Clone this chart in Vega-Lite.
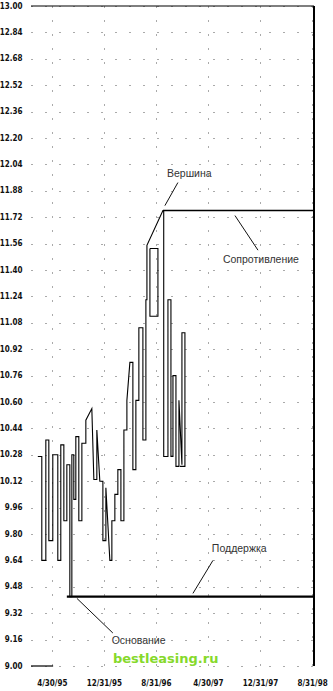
{
  "$schema": "https://vega.github.io/schema/vega-lite/v6.json",
  "width": 283,
  "height": 660,
  "autosize": "none",
  "padding": {"left": 31, "top": 6, "right": 19, "bottom": 25},
  "background": "white",
  "config": {
    "view": {"stroke": null},
    "axis": {
      "labelFont": "DejaVu Sans Condensed",
      "labelFontWeight": "bold",
      "labelFontSize": 8,
      "labelColor": "#111",
      "domain": false,
      "ticks": false,
      "grid": true,
      "gridColor": "#555",
      "gridDash": [1, 13],
      "gridWidth": 1,
      "title": null
    }
  },
  "datasets": {
    "path": [
      {"s": 1, "i": 1, "t": 1.85, "p": 10.27},
      {"s": 1, "i": 2, "t": 2.46, "p": 10.27},
      {"s": 1, "i": 3, "t": 2.46, "p": 9.64},
      {"s": 1, "i": 4, "t": 3.08, "p": 9.64},
      {"s": 1, "i": 5, "t": 3.08, "p": 10.37},
      {"s": 1, "i": 6, "t": 3.54, "p": 10.37},
      {"s": 1, "i": 7, "t": 3.54, "p": 9.76},
      {"s": 1, "i": 8, "t": 4.15, "p": 9.76},
      {"s": 1, "i": 9, "t": 4.15, "p": 10.28},
      {"s": 1, "i": 10, "t": 4.92, "p": 10.28},
      {"s": 1, "i": 11, "t": 4.92, "p": 9.64},
      {"s": 1, "i": 12, "t": 5.38, "p": 9.64},
      {"s": 1, "i": 13, "t": 5.38, "p": 10.34},
      {"s": 1, "i": 14, "t": 5.85, "p": 10.34},
      {"s": 1, "i": 15, "t": 5.85, "p": 9.88},
      {"s": 1, "i": 16, "t": 6.31, "p": 9.88},
      {"s": 1, "i": 17, "t": 6.31, "p": 10.22},
      {"s": 1, "i": 18, "t": 6.77, "p": 10.22},
      {"s": 1, "i": 19, "t": 6.77, "p": 9.42},
      {"s": 1, "i": 20, "t": 7.08, "p": 9.42},
      {"s": 1, "i": 21, "t": 7.08, "p": 10.28},
      {"s": 1, "i": 22, "t": 7.38, "p": 10.28},
      {"s": 1, "i": 23, "t": 7.38, "p": 10.01},
      {"s": 1, "i": 24, "t": 7.69, "p": 10.01},
      {"s": 1, "i": 25, "t": 7.69, "p": 10.39},
      {"s": 1, "i": 26, "t": 8.15, "p": 10.39},
      {"s": 1, "i": 27, "t": 8.15, "p": 9.88},
      {"s": 1, "i": 28, "t": 8.62, "p": 9.88},
      {"s": 1, "i": 29, "t": 8.62, "p": 10.35},
      {"s": 1, "i": 30, "t": 9.23, "p": 10.35},
      {"s": 1, "i": 31, "t": 9.23, "p": 10.49},
      {"s": 1, "i": 32, "t": 10.15, "p": 10.56},
      {"s": 1, "i": 33, "t": 10.46, "p": 10.13},
      {"s": 1, "i": 34, "t": 10.92, "p": 10.13},
      {"s": 1, "i": 35, "t": 10.92, "p": 10.43},
      {"s": 1, "i": 36, "t": 11.38, "p": 10.12},
      {"s": 1, "i": 37, "t": 11.85, "p": 10.12},
      {"s": 1, "i": 38, "t": 11.85, "p": 9.76},
      {"s": 1, "i": 39, "t": 12.31, "p": 9.76},
      {"s": 1, "i": 40, "t": 12.31, "p": 10.08},
      {"s": 1, "i": 41, "t": 12.92, "p": 9.64},
      {"s": 1, "i": 42, "t": 13.23, "p": 9.64},
      {"s": 1, "i": 43, "t": 13.23, "p": 9.88},
      {"s": 1, "i": 44, "t": 13.69, "p": 9.88},
      {"s": 1, "i": 45, "t": 13.69, "p": 10.04},
      {"s": 1, "i": 46, "t": 14.15, "p": 10.04},
      {"s": 1, "i": 47, "t": 14.15, "p": 10.19},
      {"s": 1, "i": 48, "t": 14.62, "p": 10.19},
      {"s": 1, "i": 49, "t": 14.62, "p": 9.88},
      {"s": 1, "i": 50, "t": 15.08, "p": 9.88},
      {"s": 1, "i": 51, "t": 15.08, "p": 10.43},
      {"s": 1, "i": 52, "t": 15.54, "p": 10.43},
      {"s": 1, "i": 53, "t": 15.54, "p": 10.61},
      {"s": 1, "i": 54, "t": 16.0, "p": 10.84},
      {"s": 1, "i": 55, "t": 16.46, "p": 10.84},
      {"s": 1, "i": 56, "t": 16.46, "p": 10.19},
      {"s": 1, "i": 57, "t": 16.92, "p": 10.19},
      {"s": 1, "i": 58, "t": 16.92, "p": 10.61},
      {"s": 1, "i": 59, "t": 17.38, "p": 10.61},
      {"s": 1, "i": 60, "t": 17.38, "p": 11.05},
      {"s": 1, "i": 61, "t": 18.0, "p": 11.05},
      {"s": 1, "i": 62, "t": 18.0, "p": 10.37},
      {"s": 1, "i": 63, "t": 18.46, "p": 10.37},
      {"s": 1, "i": 64, "t": 18.46, "p": 11.22},
      {"s": 1, "i": 65, "t": 18.62, "p": 11.22},
      {"s": 1, "i": 66, "t": 18.62, "p": 11.55},
      {"s": 1, "i": 67, "t": 21.08, "p": 11.76},
      {"s": 1, "i": 68, "t": 21.2, "p": 11.76},
      {"s": 1, "i": 69, "t": 21.2, "p": 10.27},
      {"s": 1, "i": 70, "t": 21.85, "p": 10.27},
      {"s": 1, "i": 71, "t": 21.85, "p": 11.22},
      {"s": 1, "i": 72, "t": 22.31, "p": 11.22},
      {"s": 1, "i": 73, "t": 22.31, "p": 10.27},
      {"s": 1, "i": 74, "t": 22.62, "p": 10.27},
      {"s": 1, "i": 75, "t": 22.62, "p": 10.76},
      {"s": 1, "i": 76, "t": 23.08, "p": 10.76},
      {"s": 1, "i": 77, "t": 23.08, "p": 10.21},
      {"s": 1, "i": 78, "t": 23.54, "p": 10.21},
      {"s": 1, "i": 79, "t": 23.54, "p": 10.61},
      {"s": 1, "i": 80, "t": 24.0, "p": 10.22},
      {"s": 1, "i": 81, "t": 24.0, "p": 11.02},
      {"s": 1, "i": 82, "t": 24.46, "p": 11.02},
      {"s": 1, "i": 83, "t": 24.46, "p": 10.21},
      {"s": 1, "i": 84, "t": 23.7, "p": 10.21},
      {"s": 2, "i": 1, "t": 19.08, "p": 11.53},
      {"s": 2, "i": 2, "t": 20.31, "p": 11.53},
      {"s": 2, "i": 3, "t": 20.31, "p": 11.12},
      {"s": 2, "i": 4, "t": 19.08, "p": 11.12},
      {"s": 2, "i": 5, "t": 19.08, "p": 11.53}
    ],
    "leaders": [
      {"t1": 21.38, "p1": 11.79, "t2": 23.38, "p2": 11.93},
      {"t1": 32.15, "p1": 11.73, "t2": 35.69, "p2": 11.52},
      {"t1": 25.69, "p1": 9.44, "t2": 28.77, "p2": 9.64},
      {"t1": 7.85, "p1": 9.41, "t2": 13.38, "p2": 9.2}
    ],
    "levels": [
      {"name": "Сопротивление", "t1": 21.08, "t2": 44.3, "p": 11.76, "w": 1.5},
      {"name": "Поддержка", "t1": 6.31, "t2": 44.3, "p": 9.42, "w": 2.2}
    ],
    "labels": [
      {"t": 21.7, "p": 11.98, "text": "Вершина"},
      {"t": 30.3, "p": 11.46, "text": "Сопротивление"},
      {"t": 28.6, "p": 9.71, "text": "Поддержка"},
      {"t": 13.2, "p": 9.15, "text": "Основание"}
    ],
    "frame": [
      {"t1": 0.8, "t2": 44.3, "p1": 13, "p2": 13, "w": 1.2},
      {"t1": 44.3, "t2": 44.3, "p1": 9, "p2": 13, "w": 2},
      {"t1": 0.8, "t2": 4.2, "p1": 9, "p2": 9, "w": 1.2}
    ],
    "mark": [
      {"t": 21.5, "p": 9.04, "text": "bestleasing.ru"}
    ]
  },
  "encoding": {
    "x": {
      "field": "t", "type": "quantitative",
      "scale": {"domain": [0.8, 44.3], "nice": false, "zero": false},
      "axis": {
        "values": [4, 12, 20, 28, 36, 44],
        "labelPadding": 13,
        "labelExpr": "datum.value == 4 ? '4/30/95' : datum.value == 12 ? '12/31/95' : datum.value == 20 ? '8/31/96' : datum.value == 28 ? '4/30/97' : datum.value == 36 ? '12/31/97' : '8/31/98'"
      }
    },
    "y": {
      "field": "p", "type": "quantitative",
      "scale": {"domain": [9, 13], "nice": false, "zero": false},
      "axis": {
        "values": [9.0, 9.16, 9.32, 9.48, 9.64, 9.8, 9.96, 10.12, 10.28, 10.44, 10.6, 10.76, 10.92, 11.08, 11.24, 11.4, 11.56, 11.72, 11.88, 12.04, 12.2, 12.36, 12.52, 12.68, 12.84, 13.0],
        "format": ".2f",
        "labelPadding": 9
      }
    }
  },
  "layer": [
    {
      "data": {"name": "path"},
      "mark": {"type": "line", "color": "#000", "strokeWidth": 1.1, "interpolate": "linear"},
      "encoding": {
        "detail": {"field": "s"},
        "order": {"field": "i", "type": "quantitative"}
      }
    },
    {
      "data": {"name": "levels"},
      "mark": {"type": "rule", "color": "#000"},
      "encoding": {
        "x": {"field": "t1", "type": "quantitative"},
        "x2": {"field": "t2"},
        "y": {"field": "p", "type": "quantitative"},
        "strokeWidth": {"field": "w", "type": "quantitative", "scale": null}
      }
    },
    {
      "data": {"name": "frame"},
      "mark": {"type": "rule", "color": "#000"},
      "encoding": {
        "x": {"field": "t1", "type": "quantitative"},
        "x2": {"field": "t2"},
        "y": {"field": "p1", "type": "quantitative"},
        "y2": {"field": "p2"},
        "strokeWidth": {"field": "w", "type": "quantitative", "scale": null}
      }
    },
    {
      "data": {"name": "leaders"},
      "mark": {"type": "rule", "color": "#111", "strokeWidth": 1},
      "encoding": {
        "x": {"field": "t1", "type": "quantitative"},
        "x2": {"field": "t2"},
        "y": {"field": "p1", "type": "quantitative"},
        "y2": {"field": "p2"}
      }
    },
    {
      "data": {"name": "labels"},
      "mark": {"type": "text", "align": "left", "baseline": "middle", "font": "Liberation Sans", "fontSize": 10.5, "color": "#333"},
      "encoding": {
        "text": {"field": "text"}
      }
    },
    {
      "data": {"name": "mark"},
      "mark": {"type": "text", "align": "center", "baseline": "middle", "font": "DejaVu Sans", "fontWeight": "bold", "fontSize": 13, "color": "#86d92b"},
      "encoding": {
        "text": {"field": "text"}
      }
    }
  ]
}
